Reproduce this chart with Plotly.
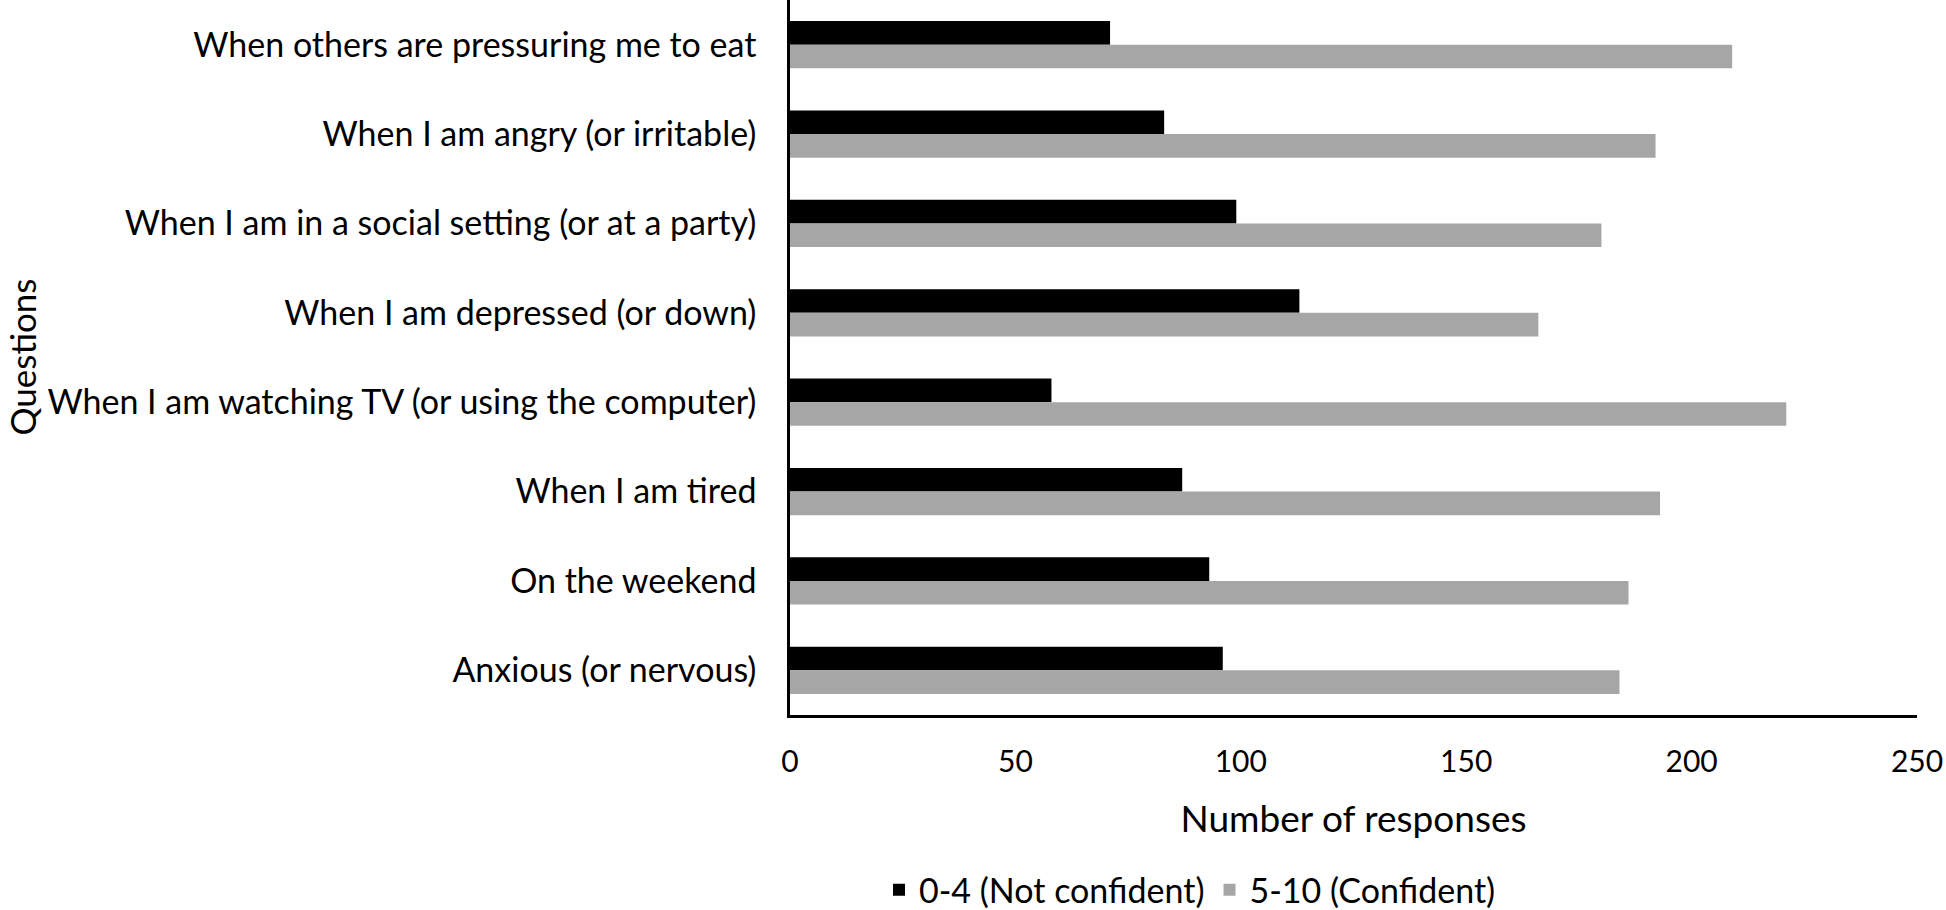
import plotly.graph_objects as go

questions = [
    "When others are pressuring me to eat",
    "When I am angry (or irritable)",
    "When I am in a social setting (or at a party)",
    "When I am depressed (or down)",
    "When I am watching TV (or using the computer)",
    "When I am tired",
    "On the weekend",
    "Anxious (or nervous)",
]
not_confident = [71, 83, 99, 113, 58, 87, 93, 96]
confident = [209, 192, 180, 166, 221, 193, 186, 184]
x_ticks = [0, 50, 100, 150, 200, 250]

FONT = "Lato"
W, H = 1946, 910
L, R, T, B = 790, 29, 0, 195
PW = W - L - R

fig = go.Figure()
fig.add_trace(go.Bar(y=questions, x=not_confident, orientation="h",
                     name="0-4 (Not confident)", marker=dict(color="#000000", line=dict(width=0))))
fig.add_trace(go.Bar(y=questions, x=confident, orientation="h",
                     name="5-10 (Confident)", marker=dict(color="#A6A6A6", line=dict(width=0))))

fig.update_layout(
    width=W, height=H,
    margin=dict(l=L, r=R, t=T, b=B, autoexpand=False),
    paper_bgcolor="white", plot_bgcolor="white",
    barmode="group", bargap=0.47, bargroupgap=0,
    font=dict(family=FONT, size=34, color="black"),
    showlegend=True,
    legend=dict(orientation="h", x=(1190 - L) / PW, y=-0.245,
                xanchor="center", yanchor="middle",
                font=dict(family=FONT, size=34), traceorder="normal"),
    xaxis=dict(range=[0, 250], tickvals=x_ticks, showgrid=False, zeroline=False,
               showline=True, linecolor="black", linewidth=2.5, automargin=False,
               ticks="outside", ticklen=18, tickcolor="rgba(0,0,0,0)",
               tickfont=dict(family=FONT, size=30),
               title=dict(text="Number of responses", standoff=30,
                          font=dict(family=FONT, size=37))),
    yaxis=dict(categoryorder="array", categoryarray=questions, autorange="reversed",
               showgrid=False, zeroline=False, showline=True, linecolor="black", linewidth=2.5,
               automargin=False,
               ticks="outside", ticklen=24, tickcolor="rgba(0,0,0,0)",
               tickfont=dict(family=FONT, size=34)),
    annotations=[dict(text="Questions", textangle=-90, xref="paper", yref="paper",
                      x=(21 - L) / PW, y=0.5, xanchor="center", yanchor="middle",
                      showarrow=False, font=dict(family=FONT, size=35))],
)

fig.write_html("out.html", config={"displayModeBar": False},
               post_script="document.body.style.margin='0';document.body.style.overflow='hidden';")
